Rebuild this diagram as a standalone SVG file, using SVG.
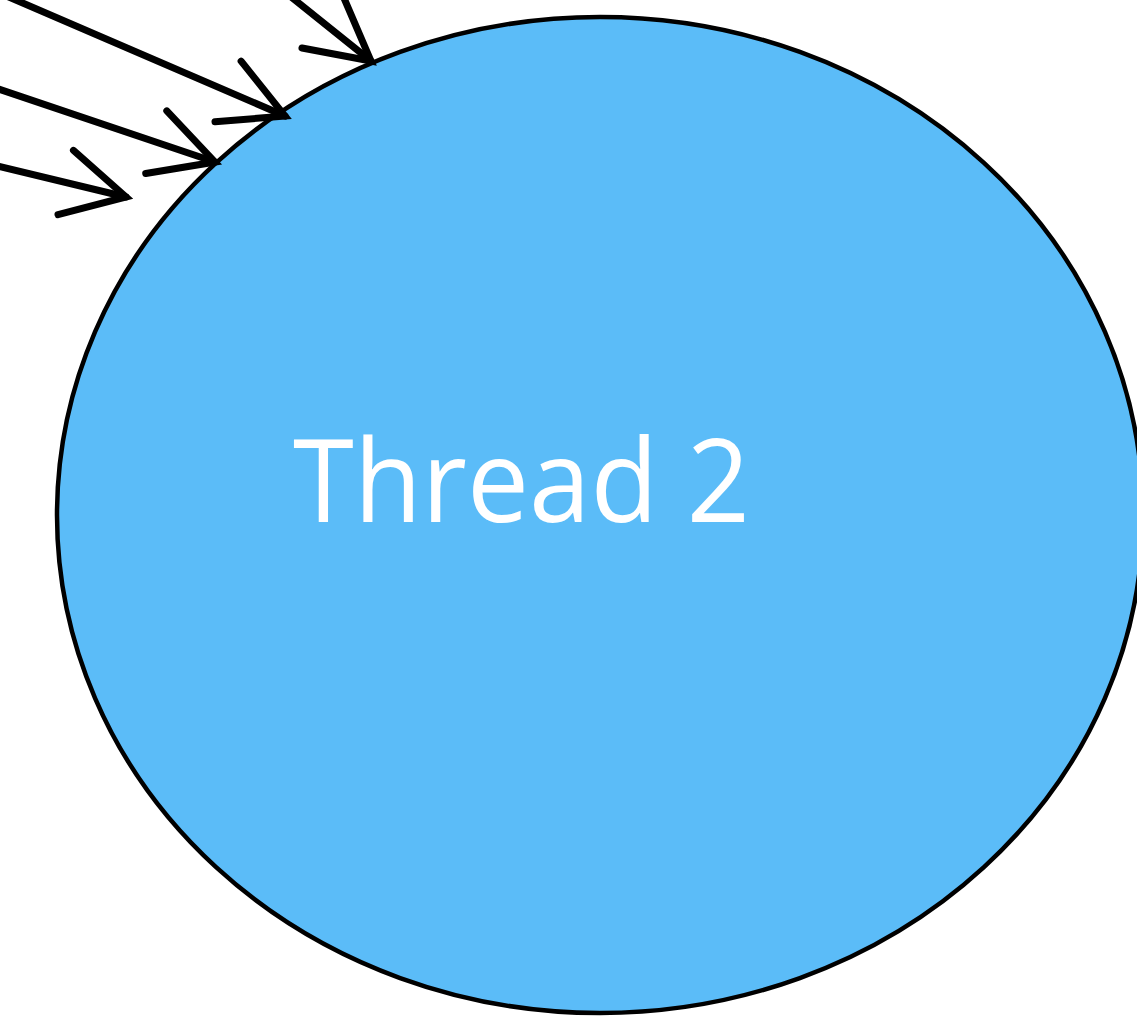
<svg xmlns="http://www.w3.org/2000/svg" width="1137" height="1021" viewBox="0 0 1137 1021">
<style>
.node{fill:#5BBCF8;stroke:#000;stroke-width:4.5}
.lbl{fill:#fff;font-family:"Open Sans","DejaVu Sans",sans-serif;font-size:115px}
.edge{stroke:#000;stroke-width:7;fill:none;stroke-linecap:round}
</style>
<defs>
<marker id="arr" markerUnits="userSpaceOnUse" orient="auto" markerWidth="90" markerHeight="90" refX="0" refY="0" viewBox="-80 -45 90 90" overflow="visible">
<path d="M-62,-33 L0,0 L-62,33" fill="none" stroke="#000" stroke-width="7" stroke-linecap="round" stroke-linejoin="miter"/>
</marker>
</defs>
<g id="thread2">
<ellipse class="node" cx="600" cy="515" rx="543" ry="498"/>
<text class="lbl" x="293" y="522" textLength="457" lengthAdjust="spacingAndGlyphs">Thread 2</text>
</g>
<g id="connectors">
<line class="edge" x1="-40" y1="157" x2="126" y2="197" marker-end="url(#arr)"/>
<line class="edge" x1="-40" y1="76" x2="215" y2="162" marker-end="url(#arr)"/>
<line class="edge" x1="-40" y1="-24" x2="285" y2="116" marker-end="url(#arr)"/>
<line class="edge" x1="270" y1="-20" x2="371" y2="61" marker-end="url(#arr)"/>
</g>
</svg>
